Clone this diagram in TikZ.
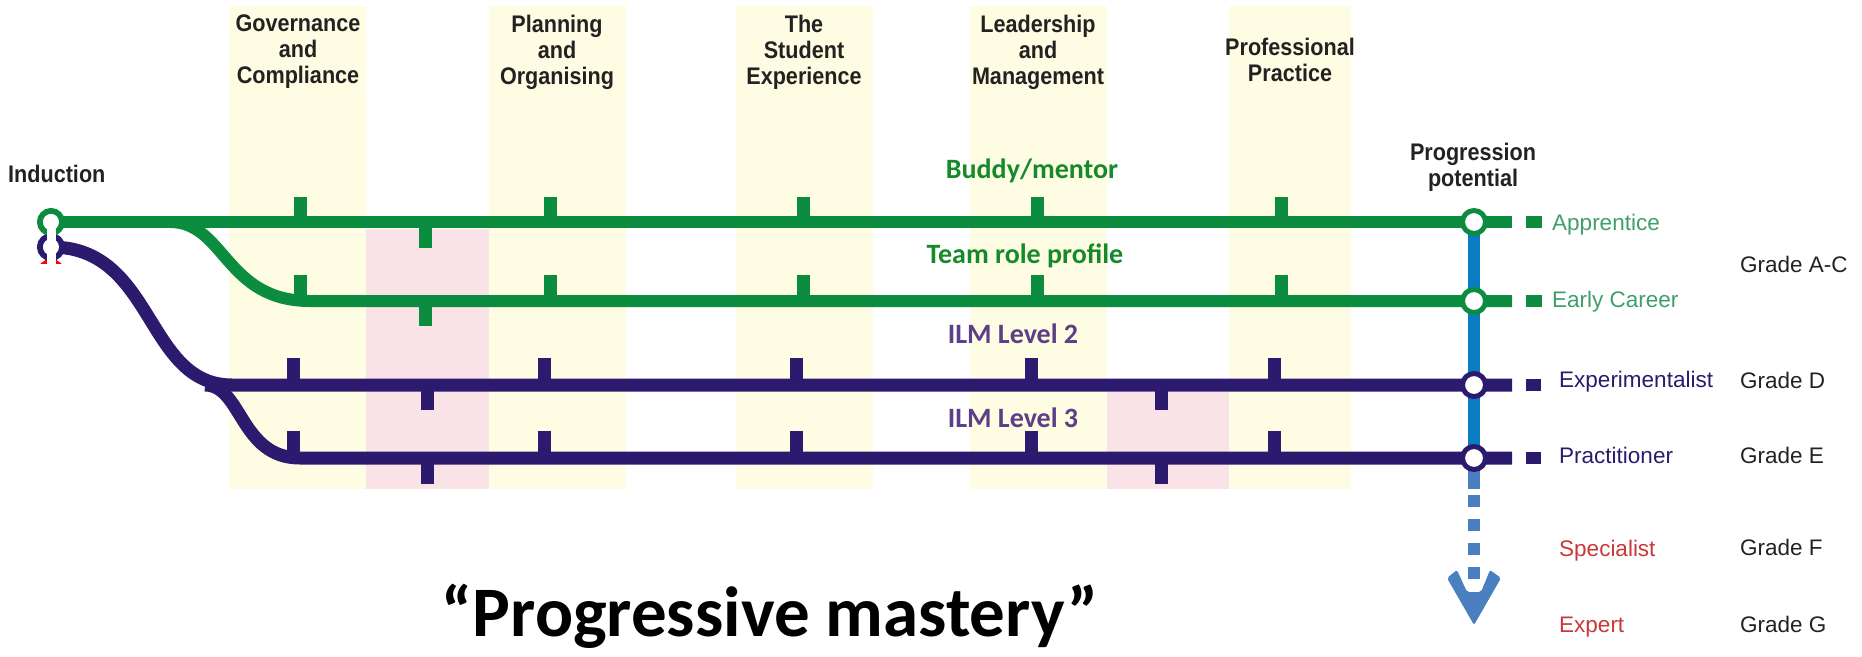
\documentclass[tikz,border=0pt]{standalone}
\usepackage{fontspec}
\setmainfont{Liberation Sans}
\newfontfamily\hdrfont[FakeStretch=0.9]{Liberation Sans}
\newfontfamily\calfont{Carlito}
\definecolor{colY}{HTML}{FEFCE2}
\definecolor{colP}{HTML}{F9E3E6}
\definecolor{gline}{HTML}{0B8C3E}
\definecolor{pline}{HTML}{2B1A6E}
\definecolor{bline}{HTML}{0A7CC2}
\definecolor{dline}{HTML}{4A80C0}
\definecolor{glabel}{HTML}{3F9E6B}
\definecolor{budtxt}{HTML}{168A2A}
\definecolor{ilmtxt}{HTML}{5C3F87}
\definecolor{redtxt}{HTML}{C8383B}
\definecolor{txt}{HTML}{222222}
\begin{document}
\begin{tikzpicture}[x=1pt,y=-1pt,
  gtrack/.style={draw=gline,line width=12pt},
  ptrack/.style={draw=pline,line width=13pt},
  station/.style={circle,draw=#1,line width=5pt,fill=white,minimum size=23pt,inner sep=0pt},
  hdr/.style={anchor=north,inner sep=0pt,align=center,text=txt,font=\hdrfont\bfseries\fontsize{24}{26}\selectfont},
  lbl/.style={anchor=base west,inner sep=0pt,font=\fontsize{22.5}{26}\selectfont},
  grade/.style={lbl,text=txt},
  linelbl/.style={anchor=base,inner sep=0pt,font=\calfont\bfseries\fontsize{28}{32}\selectfont}]
\useasboundingbox (0,0) rectangle (1862,656);
% columns
\fill[colY] (229,6) rectangle (366,489);
\fill[colP] (366,229) rectangle (489,489);
\fill[colY] (489,6) rectangle (626,489);
\fill[colY] (736,6) rectangle (873,489);
\fill[colY] (970,6) rectangle (1107,489);
\fill[colP] (1107,392) rectangle (1229,489);
\fill[colY] (1229,6) rectangle (1351,489);
% headers
\node[hdr] (h1) at (298,15) {Governance\\and\\Compliance};
\node[hdr] (h2) at (557,15) {Planning\\and\\Organising};
\node[hdr] (h3) at (804,15) {The\\Student\\Experience};
\node[hdr] (h4) at (1038,15) {Leadership\\and\\Management};
\node[hdr] (h5) at (1290,38) {Professional\\Practice};
\node[hdr,anchor=base west] (ind0) at (8,182) {Induction};
\node[hdr] (pp) at (1473,143) {Progression\\potential};
% coordinates
\coordinate (ind) at (51,222);
\coordinate (indp) at (51,247);
\coordinate (indr) at (51,273);
\coordinate (sA) at (1474,222);
\coordinate (sE) at (1474,301);
\coordinate (sX) at (1474,385);
\coordinate (sP) at (1474,458);
\coordinate (eA) at (1512,222);
\coordinate (eE) at (1512,301);
\coordinate (eX) at (1512,385);
\coordinate (eP) at (1512,458);
\coordinate (gb0) at (170,222);
\coordinate (gb1) at (310,301);
\coordinate (pb0) at (232,385);
\coordinate (pc0) at (205,385);
\coordinate (pc1) at (300,458);
% tracks
\draw[gtrack] (ind) -- (eA);
\draw[gtrack] (gb0) .. controls (225,222) and (225,301) .. (gb1) -- (eE);
\draw[ptrack] (indp) .. controls (155,247) and (145,385) .. (pb0) -- (eX);
\draw[ptrack] (pc0) .. controls (242,385) and (240,458) .. (pc1) -- (eP);
% ticks
\foreach \x in {300,550,803,1037,1281} {
  \fill[gline] (\x-6.5,222) rectangle (\x+6.5,197);
  \fill[gline] (\x-6.5,301) rectangle (\x+6.5,275);
}
\fill[gline] (419,222) rectangle (432,248);
\fill[gline] (419,301) rectangle (432,326);
\foreach \x in {293,544,796,1031,1274} {
  \fill[pline] (\x-6.5,385) rectangle (\x+6.5,358);
  \fill[pline] (\x-6.5,458) rectangle (\x+6.5,431);
}
\foreach \x in {427,1161} {
  \fill[pline] (\x-6.5,385) rectangle (\x+6.5,410);
  \fill[pline] (\x-6.5,458) rectangle (\x+6.5,484);
}
% end squares
\fill[gline] (1526,216) rectangle (1542,228);
\fill[gline] (1526,295) rectangle (1542,307);
\fill[pline] (1526,379) rectangle (1541,391);
\fill[pline] (1526,452) rectangle (1541,464);
% vertical progression
\draw[bline,line width=12pt] (sA) -- (sP);
\coordinate (dA) at (1474,489);
\coordinate (dB) at (1474,495);
\coordinate (dC) at (1474,581);
\draw[dline,line width=12pt] (sP) -- (dA);
\draw[dline,line width=12pt,dash pattern=on 12pt off 12pt] (dB) -- (dC);
\fill[dline,rounded corners=2pt] (1447,578) -- (1457,570) -- (1467,592) -- (1481,592) -- (1490,570) -- (1501,578) -- (1474,625) -- cycle;
% stations
\node[station=gline] (stA) at (sA) {};
\node[station=gline] (stE) at (sE) {};
\node[station=pline] (stX) at (sX) {};
\node[station=pline] (stP) at (sP) {};
% induction interchange
\begin{scope}
\clip (30,258) rectangle (72,263);
\draw[red,line width=6pt] (indr) circle (11);
\end{scope}
\draw[pline,line width=6pt] (indp) circle (11);
\draw[gline,line width=6pt] (ind) circle (11);
\fill[white] (ind) circle (8);
\fill[white] (indp) circle (8);
\fill[white] (46.5,222) rectangle (55.5,264);
% line labels
\node[linelbl,text=budtxt] (l1) at (1032,178) {Buddy/mentor};
\node[linelbl,text=budtxt] (l2) at (1025,263) {Team role profile};
\node[linelbl,text=ilmtxt] (l3) at (1013,343) {ILM Level 2};
\node[linelbl,text=ilmtxt] (l4) at (1013,427) {ILM Level 3};
% right labels
\node[lbl,text=glabel] (r1) at (1552,230) {Apprentice};
\node[lbl,text=glabel] (r2) at (1552,307) {Early Career};
\node[lbl,text=pline] (r3) at (1559,387) {Experimentalist};
\node[lbl,text=pline] (r4) at (1559,463) {Practitioner};
\node[lbl,text=redtxt] (r5) at (1559,556) {Specialist};
\node[lbl,text=redtxt] (r6) at (1559,632) {Expert};
\node[grade] (g1) at (1740,272) {Grade A-C};
\node[grade] (g2) at (1740,388) {Grade D};
\node[grade] (g3) at (1740,463) {Grade E};
\node[grade] (g4) at (1740,555) {Grade F};
\node[grade] (g5) at (1740,632) {Grade G};
% title
\node[anchor=base,inner sep=0pt,font=\calfont\bfseries\fontsize{71}{78}\selectfont] (title) at (770,636) {“Progressive mastery”};
\end{tikzpicture}
\end{document}
